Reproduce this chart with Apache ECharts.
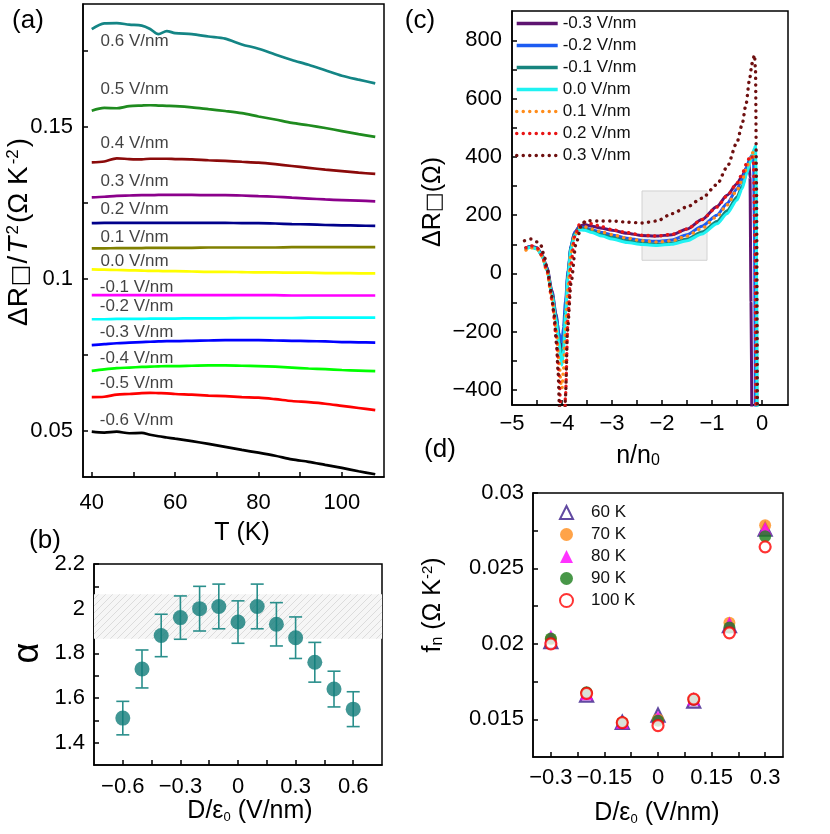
<!DOCTYPE html>
<html><head><meta charset="utf-8">
<script src="https://cdn.jsdelivr.net/npm/echarts@6/dist/echarts.min.js"></script>
<style>html,body{margin:0;padding:0;background:#fff}#c{width:830px;height:834px}</style>
</head><body><div id="c"></div><script>
// ---------- Panel (a) data ----------
const T_a = [40,43,46,49,52,54,56,58,60,64,68,72,76,80,84,88,92,96,100,104,108];
const a_p06 = [0.1821,0.1840,0.1841,0.1836,0.1833,0.1822,0.1805,0.1815,0.1808,0.1805,0.1797,0.1790,0.1771,0.1757,0.1738,0.1720,0.1704,0.1686,0.1668,0.1655,0.1643];
const a_p05 = [0.1553,0.1562,0.1561,0.1568,0.1570,0.1571,0.1570,0.1569,0.1568,0.1564,0.1558,0.1552,0.1545,0.1534,0.1524,0.1513,0.1505,0.1496,0.1486,0.1476,0.1467];
const a_p04 = [0.1383,0.1386,0.1396,0.1394,0.1393,0.1395,0.1395,0.1395,0.1394,0.1393,0.1390,0.1388,0.1385,0.1382,0.1377,0.1371,0.1365,0.1359,0.1354,0.1349,0.1345];
const a_p03 = [0.1268,0.1270,0.1273,0.1274,0.1275,0.1275,0.1276,0.1276,0.1276,0.1276,0.1275,0.1275,0.1274,0.1272,0.1270,0.1267,0.1264,0.1261,0.1259,0.1257,0.1255];
const a_p02 = [0.1183,0.1184,0.1184,0.1184,0.1184,0.1184,0.1184,0.1184,0.1184,0.1184,0.1184,0.1184,0.1183,0.1183,0.1182,0.1180,0.1179,0.1177,0.1176,0.1175,0.1174];
const a_p01 = [0.1100,0.1100,0.1101,0.1101,0.1101,0.1102,0.1102,0.1102,0.1102,0.1102,0.1103,0.1103,0.1103,0.1103,0.1103,0.1104,0.1104,0.1104,0.1104,0.1104,0.1104];
const a_p00 = [0.1031,0.1030,0.1029,0.1028,0.1027,0.1026,0.1026,0.1025,0.1025,0.1024,0.1023,0.1023,0.1022,0.1021,0.1021,0.1020,0.1020,0.1019,0.1019,0.1018,0.1018];
const a_m01 = [0.0946,0.0946,0.0946,0.0946,0.0946,0.0946,0.0946,0.0946,0.0946,0.0946,0.0946,0.0946,0.0946,0.0946,0.0946,0.0945,0.0945,0.0945,0.0945,0.0945,0.0945];
const a_m02 = [0.0867,0.0867,0.0868,0.0868,0.0868,0.0869,0.0869,0.0869,0.0869,0.0870,0.0870,0.0870,0.0871,0.0871,0.0871,0.0871,0.0872,0.0872,0.0872,0.0872,0.0872];
const a_m03 = [0.0782,0.0785,0.0788,0.0790,0.0792,0.0793,0.0794,0.0795,0.0795,0.0796,0.0797,0.0798,0.0798,0.0798,0.0797,0.0796,0.0795,0.0794,0.0792,0.0791,0.0790];
const a_m04 = [0.0697,0.0702,0.0706,0.0708,0.0710,0.0711,0.0712,0.0713,0.0713,0.0714,0.0715,0.0715,0.0714,0.0713,0.0711,0.0708,0.0705,0.0703,0.0700,0.0698,0.0696];
const a_m05 = [0.0611,0.0612,0.0619,0.0621,0.0624,0.0625,0.0624,0.0623,0.0621,0.0619,0.0616,0.0614,0.0611,0.0609,0.0604,0.0598,0.0594,0.0589,0.0582,0.0575,0.0568];
const a_m06 = [0.0497,0.0494,0.0497,0.0492,0.0493,0.0487,0.0482,0.0478,0.0474,0.0466,0.0457,0.0447,0.0437,0.0428,0.0418,0.0406,0.0398,0.0388,0.0378,0.0367,0.0357];
const a_names = ['0.6 V/nm','0.5 V/nm','0.4 V/nm','0.3 V/nm','0.2 V/nm','0.1 V/nm','0.0 V/nm','-0.1 V/nm','-0.2 V/nm','-0.3 V/nm','-0.4 V/nm','-0.5 V/nm','-0.6 V/nm'];
const a_series = [a_p06,a_p05,a_p04,a_p03,a_p02,a_p01,a_p00,a_m01,a_m02,a_m03,a_m04,a_m05,a_m06];
const a_colors = ['#148585','#1f8b1f','#8b0a0a','#8b008b','#00008b','#808000','#ffff00','#ff00ff','#00ffff','#0000ff','#00ff00','#ff0000','#000000'];
const a_labelT = [42,42,42,42,42,42,42,41.8,41.8,41.8,41.8,41.8,41.8];
const a_labelV = [0.1780,0.1623,0.1447,0.1321,0.1229,0.1136,0.1058,0.0971,0.0908,0.0825,0.0738,0.0656,0.0533];
const a_xTicks = [40,50,60,70,80,90,100];
const a_xLabels = [40,60,80,100];
const a_yTicks = [0.05,0.075,0.1,0.125,0.15,0.175];
const a_yLabels = [0.05,0.1,0.15];

// ---------- Panel (b) data ----------
const D_b = [-0.6,-0.5,-0.4,-0.3,-0.2,-0.1,0,0.1,0.2,0.3,0.4,0.5,0.6];
const alpha_b = [1.51,1.73,1.88,1.96,2.00,2.01,1.94,2.01,1.93,1.87,1.76,1.64,1.55];
const err_b = [0.075,0.085,0.095,0.097,0.10,0.10,0.095,0.10,0.097,0.093,0.089,0.08,0.078];
const band_b = [1.865,2.065];
const b_xTicks = [-0.6,-0.45,-0.3,-0.15,0,0.15,0.3,0.45,0.6];
const b_xLabels = [-0.6,-0.3,0,0.3,0.6];
const b_yTicks = [1.4,1.5,1.6,1.7,1.8,1.9,2.0,2.1,2.2];
const b_yLabels = [1.4,1.6,1.8,2.0,2.2];

// ---------- Panel (c) data ----------
const c_m03 = [[-4.75,85],[-4.62,93],[-4.5,88],[-4.4,65],[-4.3,20],[-4.2,-60],[-4.12,-140],[-4.06,-210],[-4.02,-260],[-4.0,-265],[-3.97,-220],[-3.93,-120],[-3.88,0],[-3.82,90],[-3.75,140],[-3.65,162],[-3.55,168],[-3.4,162],[-3.2,155],[-3.0,148],[-2.7,138],[-2.4,130],[-2.1,128],[-1.8,133],[-1.5,152],[-1.2,185],[-0.9,230],[-0.7,268],[-0.5,308],[-0.4,333],[-0.32,360],[-0.26,378],[-0.24,330],[-0.22,-100],[-0.2,-600]];
const c_m02 = [[-4.75,85],[-4.62,92],[-4.5,86],[-4.4,62],[-4.3,15],[-4.2,-65],[-4.12,-145],[-4.06,-205],[-4.02,-235],[-4.0,-232],[-3.97,-185],[-3.93,-95],[-3.88,10],[-3.82,95],[-3.75,140],[-3.65,158],[-3.55,158],[-3.4,150],[-3.2,140],[-3.0,132],[-2.7,121],[-2.4,113],[-2.1,110],[-1.8,115],[-1.5,133],[-1.2,162],[-0.9,200],[-0.7,240],[-0.5,290],[-0.4,322],[-0.3,368],[-0.25,392],[-0.2,406],[-0.17,395],[-0.15,150],[-0.13,-600]];
const c_m01 = [[-4.75,84],[-4.62,91],[-4.5,85],[-4.4,61],[-4.3,12],[-4.2,-70],[-4.12,-155],[-4.06,-230],[-4.02,-290],[-4.0,-300],[-3.97,-250],[-3.93,-130],[-3.88,0],[-3.82,90],[-3.75,135],[-3.65,155],[-3.55,153],[-3.4,145],[-3.2,133],[-3.0,124],[-2.7,112],[-2.4,104],[-2.1,100],[-1.8,104],[-1.5,118],[-1.2,142],[-0.9,178],[-0.7,215],[-0.5,262],[-0.4,298],[-0.3,350],[-0.25,378],[-0.2,405],[-0.16,420],[-0.13,380],[-0.11,0],[-0.1,-600]];
const c_p00 = [[-4.75,82],[-4.62,90],[-4.5,84],[-4.4,60],[-4.3,10],[-4.2,-75],[-4.12,-160],[-4.06,-240],[-4.02,-300],[-4.0,-315],[-3.97,-265],[-3.93,-140],[-3.88,-10],[-3.82,85],[-3.75,130],[-3.65,150],[-3.55,148],[-3.4,140],[-3.2,128],[-3.0,118],[-2.7,106],[-2.4,99],[-2.1,96],[-1.8,100],[-1.5,112],[-1.2,135],[-0.9,170],[-0.7,205],[-0.5,252],[-0.4,290],[-0.3,345],[-0.25,375],[-0.2,405],[-0.15,430],[-0.13,437],[-0.115,300],[-0.1,-600]];
const c_p01 = [[-4.72,80],[-4.62,88],[-4.5,84],[-4.4,60],[-4.3,5],[-4.2,-90],[-4.12,-190],[-4.06,-300],[-4.02,-380],[-4.0,-395],[-3.97,-330],[-3.93,-200],[-3.88,-50],[-3.82,70],[-3.75,130],[-3.65,158],[-3.55,160],[-3.4,152],[-3.2,142],[-3.0,133],[-2.7,121],[-2.4,112],[-2.1,108],[-1.8,112],[-1.5,128],[-1.2,155],[-0.9,195],[-0.7,235],[-0.5,285],[-0.4,320],[-0.3,365],[-0.25,390],[-0.2,410],[-0.17,418],[-0.14,380],[-0.12,0],[-0.11,-600]];
const c_p02 = [[-4.72,88],[-4.62,95],[-4.5,88],[-4.4,62],[-4.3,10],[-4.2,-90],[-4.12,-210],[-4.06,-350],[-4.02,-480],[-4.0,-600],[-3.96,-600],[-3.93,-420],[-3.88,-150],[-3.82,30],[-3.75,125],[-3.65,168],[-3.55,176],[-3.4,170],[-3.2,160],[-3.0,150],[-2.7,140],[-2.4,131],[-2.1,128],[-1.8,134],[-1.5,152],[-1.2,185],[-0.9,228],[-0.7,266],[-0.5,310],[-0.4,340],[-0.3,380],[-0.25,398],[-0.21,405],[-0.17,380],[-0.14,100],[-0.12,-600]];
const c_p03 = [[-4.75,112],[-4.62,118],[-4.5,108],[-4.42,95],[-4.35,55],[-4.29,11],[-4.22,-60],[-4.16,-137],[-4.11,-240],[-4.08,-332],[-4.05,-460],[-4.02,-600],[-3.96,-600],[-3.93,-420],[-3.89,-195],[-3.82,-34],[-3.72,103],[-3.6,172],[-3.5,181],[-3.3,180],[-3.0,180],[-2.7,176],[-2.4,173],[-2.1,180],[-1.8,205],[-1.5,228],[-1.2,258],[-0.9,305],[-0.7,365],[-0.5,450],[-0.4,510],[-0.32,580],[-0.25,665],[-0.2,720],[-0.15,750],[-0.13,700],[-0.11,300],[-0.09,-600]];
const c_names = ['-0.3 V/nm','-0.2 V/nm','-0.1 V/nm','0.0 V/nm','0.1 V/nm','0.2 V/nm','0.3 V/nm'];
const c_series = [c_m03,c_m02,c_m01,c_p00,c_p01,c_p02,c_p03];
const c_colors = ['#5e1470','#1d5cf2','#17847e','#1ff2f2','#ff8c1a','#e81414','#6e0f0f'];
const c_dotted = [false,false,false,false,true,true,true];
const c_box = [-2.4,45,-1.1,283];
const c_xTicks = [-5,-4.5,-4,-3.5,-3,-2.5,-2,-1.5,-1,-0.5,0];
const c_xLabels = [-5,-4,-3,-2,-1,0];
const c_yTicks = [-400,-300,-200,-100,0,100,200,300,400,500,600,700,800];
const c_yLabels = [-400,-200,0,200,400,600,800];

// ---------- Panel (d) data ----------
const D_d = [-0.3,-0.2,-0.1,0,0.1,0.2,0.3];
const f60 = [0.02015,0.0166,0.0148,0.01528,0.0162,0.0212,0.0276];
const f70 = [0.0203,0.01675,0.01478,0.0150,0.0163,0.0214,0.02787];
const f80 = [0.0205,0.0167,0.0148,0.01513,0.01635,0.02137,0.02765];
const f90 = [0.02035,0.0168,0.01478,0.0149,0.0163,0.02109,0.02714];
const f100 = [0.0200,0.01672,0.01478,0.01458,0.01634,0.02073,0.02643];
const d_names = ['60 K','70 K','80 K','90 K','100 K'];
const d_xTicks = [-0.3,-0.225,-0.15,-0.075,0,0.075,0.15,0.225,0.3];
const d_xLabels = [-0.3,-0.15,0,0.15,0.3];
const d_yTicks = [0.015,0.0175,0.02,0.0225,0.025,0.0275,0.03];
const d_yLabels = [0.015,0.02,0.025,0.03];

// ---------- build ----------
const F = "'Liberation Sans', Arial, Helvetica, sans-serif";
const fmt = v => String(+v.toFixed(6)).replace('-', '\u2212');

function axis(gi, min, max, labels, ticks, margin) {
  return {
    type: 'value', gridIndex: gi, min: min, max: max,
    axisLine: {show: true, onZero: false, lineStyle: {color: '#000', width: 1.5}},
    axisTick: {show: true, inside: true, length: 5, customValues: ticks, lineStyle: {color: '#000', width: 1.5}},
    axisLabel: {show: true, customValues: labels, formatter: fmt, fontSize: 22, color: '#000', fontFamily: F, margin: margin},
    splitLine: {show: false}
  };
}
const gridBase = {show: true, borderColor: '#000', borderWidth: 1.5, containLabel: false};

const hatch = document.createElement('canvas');
hatch.width = 7; hatch.height = 7;
(function () {
  const g = hatch.getContext('2d');
  g.fillStyle = '#f6f6f6'; g.fillRect(0, 0, 7, 7);
  g.strokeStyle = '#dcdcdc'; g.lineWidth = 1;
  g.beginPath(); g.moveTo(-1, 8); g.lineTo(8, -1); g.stroke();
})();

const series = [];
// (a) lines
a_series.forEach((arr, i) => {
  series.push({
    name: 'a ' + a_names[i], type: 'line', xAxisIndex: 0, yAxisIndex: 0,
    data: T_a.map((t, j) => [t, arr[j]]), symbol: 'none', smooth: 0.3,
    lineStyle: {color: a_colors[i], width: 2.7}, itemStyle: {color: a_colors[i]}, silent: true
  });
});
// (a) labels
series.push({
  name: 'a labels', type: 'scatter', xAxisIndex: 0, yAxisIndex: 0, symbolSize: 1,
  itemStyle: {color: 'rgba(0,0,0,0)'}, silent: true,
  data: a_names.map((n, i) => [a_labelT[i], a_labelV[i], n]),
  label: {show: true, position: 'right', distance: 0, formatter: p => p.data[2], fontSize: 17, color: '#111', fontFamily: F}
});
// (b) error bars + band
series.push({
  name: 'b err', type: 'custom', xAxisIndex: 1, yAxisIndex: 1, silent: true,
  data: D_b.map((d, i) => [d, alpha_b[i] - err_b[i], alpha_b[i] + err_b[i]]),
  encode: {x: 0, y: [1, 2]},
  renderItem: function (params, api) {
    const hi = api.coord([api.value(0), api.value(2)]);
    const lo = api.coord([api.value(0), api.value(1)]);
    const hw = 6.5, st = {stroke: '#2a8f8c', lineWidth: 1.6};
    return {type: 'group', children: [
      {type: 'line', shape: {x1: hi[0], y1: hi[1], x2: lo[0], y2: lo[1]}, style: st},
      {type: 'line', shape: {x1: hi[0] - hw, y1: hi[1], x2: hi[0] + hw, y2: hi[1]}, style: st},
      {type: 'line', shape: {x1: lo[0] - hw, y1: lo[1], x2: lo[0] + hw, y2: lo[1]}, style: st}
    ]};
  },
  markArea: {silent: true, itemStyle: {color: {image: hatch, repeat: 'repeat'}}, data: [[{yAxis: band_b[0]}, {yAxis: band_b[1]}]]}
});
series.push({
  name: 'b alpha', type: 'scatter', xAxisIndex: 1, yAxisIndex: 1, symbolSize: 15, silent: true, z: 5,
  itemStyle: {color: '#107c79'}, data: D_b.map((d, i) => [d, alpha_b[i]])
});
// (c)
c_series.forEach((arr, i) => {
  const s = {
    name: c_names[i], type: 'line', xAxisIndex: 2, yAxisIndex: 2, data: arr, symbol: 'none',
    smooth: 0.25, smoothMonotone: 'x', silent: true, clip: true,
    lineStyle: c_dotted[i] ? {color: c_colors[i], width: 3.4, type: [0.1, 6.4], cap: 'round'} : {color: c_colors[i], width: 3},
    itemStyle: {color: c_colors[i]}
  };
  if (i === 0) {
    s.markArea = {silent: true, itemStyle: {color: '#efefef', borderColor: '#d2d2d2', borderWidth: 1},
      data: [[{coord: [c_box[0], c_box[1]]}, {coord: [c_box[2], c_box[3]]}]]};
  }
  series.push(s);
});
// (d)
const d_vals = [f60, f70, f80, f90, f100];
const d_style = [
  {symbol: 'triangle', size: 13, item: {color: '#ffffff', borderColor: '#3a1b8a', borderWidth: 2.2}},
  {symbol: 'circle', size: 12, item: {color: '#ff8c1a'}},
  {symbol: 'triangle', size: 13, item: {color: '#ff00ff'}},
  {symbol: 'circle', size: 12, item: {color: '#1a7d1a'}},
  {symbol: 'circle', size: 11, item: {color: '#ffffff', borderColor: '#ff0000', borderWidth: 2.2}}
];
d_vals.forEach((arr, i) => {
  series.push({
    name: d_names[i], type: 'scatter', xAxisIndex: 3, yAxisIndex: 3, silent: true,
    symbol: d_style[i].symbol, symbolSize: d_style[i].size, itemStyle: d_style[i].item,
    data: D_d.map((d, j) => [d, arr[j]])
  });
});

function txt(x, y, text, rich, rot, size) {
  return {type: 'text', x: x, y: y, rotation: rot || 0, silent: true,
    style: {text: text, rich: rich, fontSize: size || 22, fontFamily: F, fill: '#000', align: 'center', verticalAlign: 'middle'}};
}
const R = {
  m: {fontSize: 25, fontFamily: F, fill: '#000'},
  i: {fontSize: 25, fontFamily: F, fontStyle: 'italic', fill: '#000'},
  s: {fontSize: 15, fontFamily: F, verticalAlign: 'top', fill: '#000'},
  q: {fontSize: 21, fontFamily: 'DejaVu Sans', verticalAlign: 'bottom', fill: '#000'},
  b: {fontSize: 13, fontFamily: F, verticalAlign: 'bottom', fill: '#000'},
  bn: {fontSize: 16, fontFamily: F, verticalAlign: 'bottom', fill: '#000'}
};
const RA = {
  m: {fontSize: 28, fontFamily: F, fill: '#000', padding: [0, 1]},
  i: {fontSize: 28, fontFamily: F, fontStyle: 'italic', fill: '#000', padding: [0, 1]},
  s: {fontSize: 17, fontFamily: F, verticalAlign: 'top', fill: '#000', padding: [0, 1]},
  q: {fontSize: 23, fontFamily: 'DejaVu Sans', verticalAlign: 'bottom', fill: '#000'}
};

const option = {
  animation: false,
  backgroundColor: '#fff',
  textStyle: {fontFamily: F},
  grid: [
    Object.assign({left: 83, top: 4, width: 301, height: 473}, gridBase),
    Object.assign({left: 94, top: 564, width: 288, height: 201}, gridBase),
    Object.assign({left: 512, top: 11, width: 276, height: 394}, gridBase),
    Object.assign({left: 533, top: 493, width: 250, height: 264}, gridBase)
  ],
  xAxis: [
    axis(0, 37.9, 110.1, a_xLabels, a_xTicks, 15),
    axis(1, -0.75, 0.75, b_xLabels, b_xTicks, 11),
    axis(2, -5, 0.52, c_xLabels, c_xTicks, 8),
    axis(3, -0.35, 0.35, d_xLabels, d_xTicks, 10)
  ],
  yAxis: [
    axis(0, 0.0348, 0.1904, a_yLabels, a_yTicks, 10),
    axis(1, 1.3, 2.2, b_yLabels, b_yTicks, 9),
    axis(2, -452, 901, c_yLabels, c_yTicks, 10),
    axis(3, 0.0125, 0.03, d_yLabels, d_yTicks, 9)
  ],
  legend: [
    {left: 515, top: 15, orient: 'vertical', padding: 0, itemWidth: 41, itemHeight: 12, itemGap: 5,
      selectedMode: false, data: c_names, itemStyle: {opacity: 0}, lineStyle: {width: 3.4},
      textStyle: {fontSize: 17, color: '#111', fontFamily: F}},
    {left: 559, top: 504, orient: 'vertical', padding: 0, itemWidth: 13, itemHeight: 13, itemGap: 5,
      selectedMode: false, data: d_names, textStyle: {fontSize: 17, color: '#111', fontFamily: F, padding: [0, 0, 0, 13]}}
  ],
  graphic: [
    txt(28, 21, '(a)', null, 0, 26),
    txt(45, 541, '(b)', null, 0, 26),
    txt(420, 21, '(c)', null, 0, 26),
    txt(440, 450, '(d)', null, 0, 26),
    txt(19, 232, '{m|ΔR}{q|□}{m|/}{i|T}{s|2}{m|(Ω K}{s|-2}{m|)}', RA, Math.PI / 2),
    txt(242, 533, 'T (K)', null, 0, 25),
    txt(28, 653, 'α', null, Math.PI / 2, 36),
    txt(250, 811, '{m|D/ε}{b|0}{m| (V/nm)}', R, 0),
    txt(433, 202, '{m|ΔR}{q|□}{m|(Ω)}', R, Math.PI / 2),
    txt(638, 456, '{m|n/n}{bn|0}', R, 0),
    txt(433, 605, '{m|f}{bn|n}{m| (Ω K}{s|-2}{m|)}', R, Math.PI / 2),
    txt(657, 813, '{m|D/ε}{b|0}{m| (V/nm)}', R, 0)
  ],
  series: series
};
const chart = echarts.init(document.getElementById('c'), null, {renderer: 'canvas'});
chart.setOption(option);
</script></body></html>
